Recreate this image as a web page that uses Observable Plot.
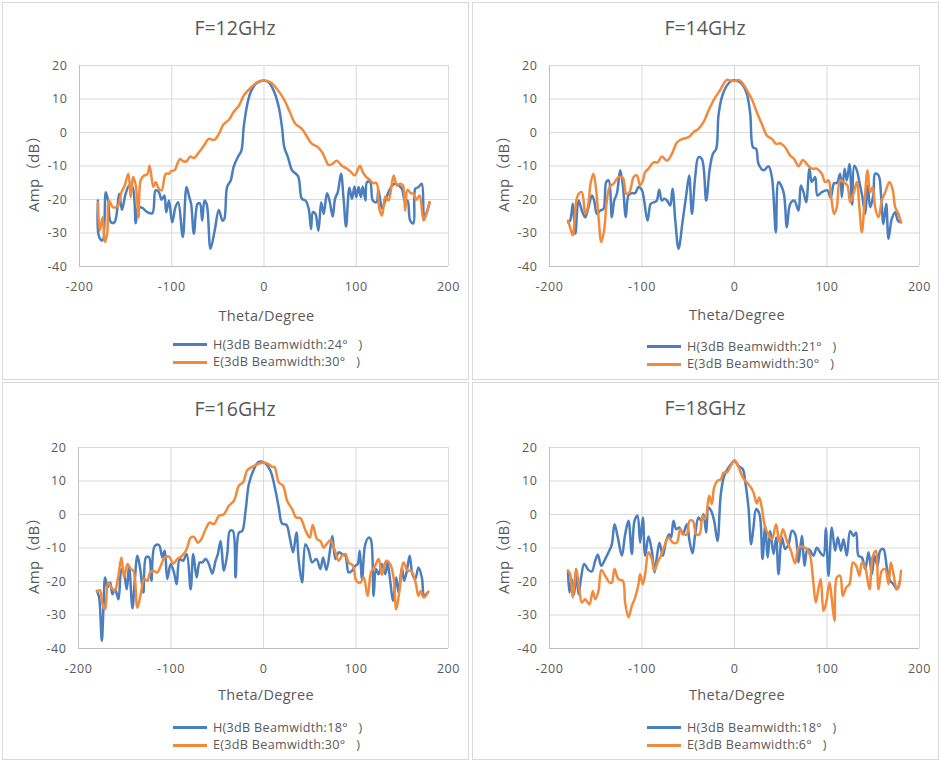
<!DOCTYPE html>
<html>
<head>
<meta charset="utf-8">
<script src="https://cdn.jsdelivr.net/npm/d3@7"></script>
<script src="https://cdn.jsdelivr.net/npm/@observablehq/plot@0.6"></script>
<style>
  html, body { margin: 0; padding: 0; background: #fff; }
  #root { position: relative; width: 940px; height: 761px; overflow: hidden; font-family: "Open Sans", "Noto Sans CJK SC", sans-serif; color: #595959; }
  .frame { position: absolute; border: 1px solid #d9d9d9; box-sizing: border-box; }
  .svgwrap { position: absolute; }
  .title { position: absolute; font-size: 19.5px; line-height: 22px; transform: translate(-50%, -50%); white-space: nowrap; }
  .xlab { position: absolute; font-size: 14.5px; line-height: 16px; letter-spacing: 0.3px; transform: translate(-50%, -50%); white-space: nowrap; }
  .ylab { position: absolute; font-size: 15px; line-height: 16px; letter-spacing: 0.4px; transform: translate(-50%, -50%) rotate(-90deg); white-space: nowrap; }
  .leg { position: absolute; font-size: 12.6px; line-height: 14px; letter-spacing: 0.3px; white-space: pre; }
  .leg .row { position: absolute; left: 0; height: 14px; display: flex; align-items: center; transform: translateY(-50%); }
  .leg .sw { width: 34px; height: 3px; margin-right: 6px; }
  .leg .tx { display: block; height: 14px; line-height: 14px; }
</style>
</head>
<body>
<div id="root"></div>
<script>
// ---------- data ----------
const xTicks = [-200, -100, 0, 100, 200];
const yTicks = [-40, -30, -20, -10, 0, 10, 20];
const titles = ["F=12GHz", "F=14GHz", "F=16GHz", "F=18GHz"];
const hLabels = ["H(3dB Beamwidth:24°   )", "H(3dB Beamwidth:21°   )", "H(3dB Beamwidth:18°   )", "H(3dB Beamwidth:18°   )"];
const eLabels = ["E(3dB Beamwidth:30°   )", "E(3dB Beamwidth:30°   )", "E(3dB Beamwidth:30°   )", "E(3dB Beamwidth:6°   )"];
const xTitle = "Theta/Degree";
const yTitle = "Amp（dB）";

const h12 = [[-180,-20.3],[-178.7,-31.2],[-175,-32.2],[-171.5,-17.8],[-169,-20.3],[-166,-26.8],[-162,-26.8],[-157,-18.3],[-154,-23.1],[-150,-18.3],[-146,-15.8],[-142.5,-16.3],[-139,-27.1],[-136.5,-22.3],[-132,-22.5],[-126.5,-23.8],[-121,-24.1],[-117.5,-17.3],[-114,-17.8],[-111,-20.1],[-108,-18.8],[-106,-23.8],[-103,-20.3],[-99.5,-26.8],[-96,-22.3],[-93,-20.8],[-88,-31.2],[-84,-16.3],[-81,-19.3],[-79,-21.3],[-76,-30.2],[-72,-21.3],[-69.5,-21.1],[-67,-26.3],[-64.5,-20.3],[-62,-21.5],[-58,-34.7],[-53.5,-29.3],[-49,-23.1],[-45,-26.3],[-43,-25.8],[-40,-16.3],[-36,-14.3],[-33,-10.3],[-28.5,-7.4],[-24.5,-5.4],[-22,1.6],[-18,8.6],[-14.5,12],[-9,14.5],[-4,15.3],[0,15.5],[5,15],[10.5,12.5],[16,7.6],[19.5,1.6],[22,-4.4],[26,-7.4],[30.5,-11.3],[37,-13.1],[41,-19.8],[45,-20.3],[48.5,-22.8],[51,-28.8],[53,-23.8],[55.7,-24.3],[59,-29.3],[62,-20.8],[64.7,-24.3],[68.3,-18.1],[71,-20.3],[74.5,-25.1],[77,-19.8],[80,-17.8],[83.5,-12.3],[86.4,-20.3],[89,-28.1],[92.5,-16.5],[95.4,-19.8],[98,-16.1],[100,-19.3],[102.6,-16.3],[105,-19.3],[107,-16.1],[110,-20.3],[111.6,-14.8],[115,-14.8],[118,-20.3],[122,-20.8],[124,-17.1],[128,-22.8],[131.5,-20.3],[135,-17.8],[139,-15.8],[142,-15.3],[146,-15.8],[149.5,-16.8],[153,-20.8],[155.6,-20.3],[158.5,-26.3],[162,-27.1],[164,-16.8],[167.5,-16.3],[171,-15.3],[173.7,-25.3],[176.5,-23.8],[179.5,-20.8]];
const e12 = [[-180,-20.8],[-178,-29.3],[-175,-25.3],[-172.5,-32.7],[-170,-30.2],[-168,-20.3],[-164,-22.3],[-160.7,-22.3],[-158,-21.8],[-154.5,-17.8],[-151,-15.8],[-147,-12.3],[-144.5,-19.3],[-142,-13.3],[-139,-15.8],[-136,-25.3],[-133.7,-14.3],[-130,-12.8],[-126.5,-12.5],[-124,-9.9],[-120,-16.3],[-117.5,-14.8],[-114,-16.8],[-111,-17.3],[-106.5,-12.3],[-103,-12.3],[-100.5,-11.5],[-97,-11.3],[-94,-9.4],[-91,-7.9],[-87.5,-8.6],[-84,-8.6],[-80,-7.2],[-76,-7.6],[-70.5,-5.9],[-65,-3.9],[-60,-1.9],[-54,-2.2],[-49,-0.5],[-44,2.4],[-38,3.8],[-33,6.1],[-27,8.1],[-22,11],[-14.5,13.3],[-7.4,15],[0,15.5],[7,15],[14,13],[21.5,10],[28,6.1],[34,2.6],[41,1.1],[47,-1.4],[52,-3.4],[57.5,-4.2],[63,-5.9],[66.5,-7.9],[70,-9.7],[74,-9.4],[79,-8.4],[84.6,-10],[90,-10.8],[94.3,-11.8],[98.3,-12.8],[104,-9.9],[107,-11.8],[111,-13.3],[114.5,-14.1],[118,-15.1],[122,-15.1],[125,-22.8],[128,-24.8],[131.5,-19.1],[135,-20.3],[137.6,-17.1],[140.6,-12.8],[144,-15.8],[147.7,-15.3],[150.6,-15.8],[153,-23.3],[155.6,-17.1],[159,-18.1],[162,-18.3],[165,-20.1],[168.6,-18.8],[173,-26.3],[176,-24.3],[179.5,-20.8]];

const h14 = [[-180,-26.8],[-177.7,-26.3],[-174.8,-21.3],[-172,-30.2],[-168.6,-20.3],[-165,-23.3],[-161.4,-25.3],[-157.8,-22.3],[-154.2,-18.8],[-151.7,-20.3],[-148.8,-24.3],[-145,-23.3],[-141.6,-22.8],[-138.7,-14.8],[-136,-14.3],[-132.6,-25.3],[-130,-20.3],[-127.2,-18.3],[-123.6,-11.3],[-120.7,-15.8],[-117.5,-25.3],[-114.6,-18.8],[-111,-18.1],[-107.4,-18.1],[-103.8,-16.3],[-100,-17.3],[-97.7,-20.3],[-94,-26.3],[-90.5,-21.3],[-86.8,-20.8],[-84,-20.3],[-81.4,-17.1],[-78.6,-20.3],[-76,-19.8],[-73,-20.3],[-69.5,-21.8],[-67,-16.8],[-64,-26.3],[-60.5,-34.7],[-56,-26.3],[-52,-18.3],[-49,-12.8],[-46,-24.3],[-42.5,-13.3],[-39,-7.4],[-35.3,-7.9],[-30.6,-20.3],[-27,-11.3],[-23.4,-6.4],[-19.8,-4.9],[-17.3,5.1],[-13.7,10.5],[-8.3,14],[-2.9,15.5],[2.5,15.5],[8,14.5],[13.3,11.5],[17,5.6],[20,-4.4],[23.4,-4.9],[26,-9.4],[31.4,-11.3],[36.8,-10.1],[40.4,-13.3],[44.7,-29.8],[47.6,-14.8],[53,-17.8],[56.6,-28.3],[60.2,-21.3],[64.5,-20.3],[69.2,-23.3],[71.7,-15.8],[74.6,-17.8],[77.5,-20.8],[81,-10.8],[83.6,-14.8],[87.2,-13.3],[89.7,-18.8],[94.4,-17.8],[100.5,-17.3],[104,-19.5],[107.7,-15.1],[110.6,-15.1],[114.2,-12.3],[116,-19.3],[119,-10.8],[121.4,-14.3],[124.3,-9.4],[127.2,-21.5],[129.4,-9.9],[132.3,-11.3],[135,-14.8],[138,-18.8],[141.3,-24.3],[144,-15.8],[146.7,-22.3],[150.3,-18.3],[152,-12.3],[155.7,-12.8],[158.6,-19.3],[161,-27.3],[164,-21.3],[166.5,-31.7],[170,-25.8],[173.7,-23.8],[176.6,-26.3],[180,-26.8]];
const e14 = [[-180,-26.3],[-177.7,-28.3],[-174.8,-30.7],[-171,-20.3],[-168.3,-18.3],[-165,-17.8],[-161.4,-24.3],[-158.6,-22.3],[-155.3,-14.8],[-152.4,-12.3],[-149.5,-17.3],[-147,-25.3],[-144,-32.7],[-141,-29.3],[-138,-20.3],[-135,-16.3],[-130.8,-15.3],[-125.4,-13.3],[-120.7,-13.5],[-117,-18.3],[-113.5,-17.8],[-109,-13.3],[-105.6,-12.8],[-102,-15.8],[-99,-14.3],[-96.6,-11.8],[-93,-10.8],[-87.6,-8.9],[-83.2,-8.9],[-78.6,-7.2],[-73,-8.4],[-67.7,-6.4],[-62,-2.9],[-56,-1.9],[-49.7,-1.4],[-44.3,0.1],[-39,1.1],[-33.5,3.1],[-28,6.6],[-22.7,9.6],[-15.5,12.7],[-8.3,15.7],[-4.7,15.5],[0,15.4],[4.3,15.7],[8,15],[13.3,12.7],[18.7,10],[24,6.1],[29.5,2.6],[35,-0.9],[40.4,-1.9],[45,-3.4],[49.4,-3.2],[54.8,-4.4],[60.2,-6.9],[64.5,-7.9],[69.2,-10.1],[73.9,-8.2],[78.2,-9.4],[83.6,-10.8],[89,-10.8],[94.4,-12.3],[98,-14.8],[101.6,-14.3],[104.5,-19.3],[107.7,-24.3],[110.6,-22.3],[114.2,-14.3],[117.8,-14.8],[122,-15.8],[125,-20.8],[128.6,-18.3],[132.3,-14.8],[135,-22.3],[137.7,-29.8],[140.5,-21.3],[143.8,-11.3],[146.7,-17.8],[149.5,-16.3],[152,-22.3],[155.7,-25.3],[159.3,-20.3],[163,-17.8],[167.6,-14.8],[171.2,-17.3],[173.7,-22.3],[177.3,-24.3],[180,-26.8]];

const h16 = [[-180,-22.8],[-177.7,-24.8],[-174.8,-37.7],[-173,-27.8],[-171.2,-18.8],[-168.7,-21.8],[-165.8,-20.3],[-163.3,-23.8],[-160.4,-22.3],[-156.8,-25.3],[-153.6,-16.3],[-150.7,-17.8],[-147.8,-22.3],[-145.3,-15.3],[-141.7,-28],[-139.2,-19.8],[-136.3,-12.3],[-133.5,-15.8],[-129.9,-23.3],[-127,-12.8],[-123.7,-12.8],[-121.2,-19.8],[-117.6,-9.4],[-113,-9.1],[-109.4,-12.8],[-106.8,-10.8],[-104,-19.3],[-100.4,-14.8],[-96.8,-17.3],[-93.9,-20.8],[-90.6,-13.3],[-87,-13.8],[-83,-11.8],[-78.8,-22.3],[-75.9,-11.8],[-72.3,-18.8],[-69,-14.3],[-66.2,-14.3],[-62.6,-13.3],[-59,-14.8],[-55.4,-17.6],[-51.8,-13.8],[-49.3,-11.8],[-46.4,-7.9],[-42.8,-16.8],[-39.2,-11.8],[-36.3,-4.9],[-33.1,-4.9],[-30.2,-18.8],[-26.6,-5.4],[-23,-4.9],[-19.4,1.1],[-15.8,9.1],[-10.4,13.5],[-6.1,15.5],[-2.5,15.8],[2.2,15.2],[7.6,13],[13,7.1],[16.5,2.1],[20.1,-2.7],[24.8,-3.1],[28.4,-6.9],[32,-11.3],[35.6,-5.4],[38.1,-13.8],[41.7,-20.3],[45.3,-8.9],[48.9,-10.8],[52.5,-14.3],[57.2,-13.3],[61.5,-16.3],[64.4,-12.8],[68,-16.6],[72.3,-9.9],[74.5,-6.4],[77.7,-13.3],[81.3,-11.3],[84.9,-11.8],[88.5,-12.3],[92,-17.3],[95.7,-16.8],[99.3,-15.3],[101.8,-14.8],[104,-10.8],[106.5,-19.3],[110,-8.9],[113.7,-6.9],[116,-7.4],[119,-24.3],[121.6,-16.3],[124.5,-17.8],[128,-14.8],[131.7,-17.8],[134,-14.3],[137,-19.8],[140,-25.8],[143.5,-18.8],[146,-23.3],[149.6,-15.8],[152,-19.8],[155,-16.8],[158,-12.3],[161,-17.8],[164,-19.3],[167.6,-15.8],[171.2,-18.8],[173.7,-24.3],[177.3,-23.3]];
const e16 = [[-180,-23],[-176.9,-22.6],[-174,-26.8],[-171.2,-28.3],[-168,-20.3],[-164.4,-21.8],[-160.8,-22.8],[-157.2,-18.8],[-153.6,-12.8],[-150.7,-18.8],[-147,-14.8],[-143.5,-16.3],[-140.6,-16.8],[-136.3,-27.8],[-132.7,-23.8],[-129.1,-19.3],[-125.5,-19.8],[-122.7,-17.3],[-119,-16.8],[-114.7,-17.3],[-111.1,-15.3],[-106.8,-12.8],[-102.2,-12.6],[-97.5,-14.6],[-93.2,-13.3],[-87.8,-12.3],[-83,-10.3],[-78.8,-6.9],[-75.2,-6.7],[-70.9,-8.4],[-67.3,-7.4],[-62.6,-4.4],[-58,-2.4],[-53.6,-2.9],[-48.2,-0.4],[-42.8,0.1],[-37.4,2.6],[-32,4.1],[-26.6,8.6],[-22,9.6],[-17.6,13.2],[-12.2,14.2],[-6.8,15],[0,15.5],[5.8,15],[9.4,14.2],[11.9,14.2],[16.5,9.6],[21.2,8.6],[25.5,4.1],[31,1.6],[35.3,-0.9],[40,-1.1],[45.3,-4.7],[50,-6.9],[53.2,-3.1],[57.9,-7.4],[61.5,-7.9],[65.1,-9.9],[68,-8.9],[72.3,-7.7],[76.6,-10.3],[81.3,-13.8],[84.9,-12.3],[88.5,-11.8],[92,-14.3],[96.8,-15.3],[100.4,-19.8],[104.7,-20.3],[108.3,-18.8],[112.6,-24.3],[116.2,-17.3],[119.8,-15.8],[124.5,-13.3],[128,-18],[132.7,-13.8],[137,-14.8],[140.6,-18.8],[143.5,-28.3],[147,-22.8],[151.4,-14.3],[155.8,-16.8],[159.4,-16.8],[164,-19.8],[167.6,-24.3],[170.1,-22.8],[173,-24.8],[178.4,-23]];

const h18 = [[-180,-16.8],[-178.4,-23.3],[-175.9,-19.3],[-173.3,-23.8],[-171.2,-16.3],[-168.6,-23.8],[-165.8,-18.8],[-162.5,-14.8],[-157.8,-16.6],[-154.2,-17],[-150.6,-13.8],[-147.7,-12],[-144.1,-15.3],[-139.8,-13.3],[-136.2,-11.3],[-132.6,-8.9],[-129.7,-2.9],[-126.1,-6.9],[-121.8,-12.3],[-118.2,-5.9],[-114.6,-1.9],[-111,-11.8],[-108.1,-1.9],[-104.9,-0.4],[-102,-8.4],[-99.1,-0.9],[-96.6,-12.3],[-93,-6.6],[-89.4,-10.8],[-86.5,-17.3],[-84,-12.8],[-81.1,-8.4],[-77.5,-12.3],[-73.9,-7.9],[-70.6,-5.9],[-68.5,-6.9],[-66,-1.9],[-63,-4.4],[-59.5,-3.9],[-55.9,-5.9],[-51.5,-2.9],[-48.6,-7.9],[-45.4,-11.6],[-42.5,-5.9],[-38.9,-0.9],[-36,-1.9],[-33.5,0.1],[-30.6,-5.4],[-28.1,2.1],[-25.2,1.1],[-22,-1.9],[-18.4,-7.9],[-14.8,6.1],[-11.2,11.5],[-6.5,14],[0,16],[4.3,14.5],[9,13.5],[11.5,10],[15.1,2.1],[18,-8.9],[20.5,-3.9],[23.4,1.6],[27,0.1],[30.3,-13.3],[33.2,-3.4],[36,-12.8],[38.6,-4.9],[42.2,-11.8],[45,-6.9],[47.6,-17.8],[51.2,-6.9],[54.8,-10.3],[58.4,-8.9],[62,-4.9],[65.6,-5.9],[69.2,-14.3],[72.8,-6.4],[75.7,-15.3],[78.9,-10.3],[81.8,-10.8],[85.4,-12.3],[89,-9.9],[92.6,-11.3],[96.2,-12.3],[98.7,-4.1],[101.6,-18.3],[105.2,-3.9],[108.8,-10.8],[111.7,-6.9],[115,-10.8],[117.8,-7.4],[121.4,-12.3],[125,-4.9],[128.6,-6.4],[131.5,-5.4],[134,-12.3],[137.7,-12.8],[141.3,-16.3],[144.9,-11.3],[148.5,-17.8],[151.4,-12.3],[154.6,-15.3],[157.5,-10.8],[161,-10.3],[164.7,-15.8],[168.3,-19.8],[171.9,-20.8],[175.5,-22.3],[179,-19.8]];
const e18 = [[-180,-16.8],[-177.7,-17.8],[-174.8,-24.8],[-171.2,-16.3],[-168,-21.8],[-165,-26.3],[-161.4,-25.3],[-156.8,-26.8],[-153.2,-22.8],[-150.6,-25.3],[-147,-22.8],[-144.1,-16.6],[-139.8,-18.3],[-135.1,-20.3],[-132.6,-20.3],[-129.7,-16.3],[-125.4,-19.3],[-120.7,-19.8],[-118.2,-26.3],[-114.6,-30.7],[-111,-27.3],[-107.4,-24.8],[-103.8,-20.8],[-102,-17.8],[-99.1,-20.8],[-96.6,-17.8],[-93,-11.3],[-89.4,-13.3],[-86.8,-16.8],[-83.2,-14.3],[-79.6,-12.3],[-75.7,-9.4],[-71.4,-6.9],[-66.7,-8.4],[-62.3,-8.4],[-58.7,-4.4],[-55.1,-5.9],[-51.5,-5.9],[-48.6,-1.9],[-45,-1.9],[-41.4,-5.9],[-37.8,-5.9],[-34.6,-0.4],[-31.7,-1.4],[-27.4,5.6],[-24.5,3.1],[-22,8.1],[-18.4,10.1],[-14.8,10.5],[-11.9,12.5],[-8.3,12.5],[-4,14.5],[0,16.2],[4.3,14.2],[9,11],[13.3,9.6],[17.7,8.1],[20.5,6.6],[24.1,3.3],[26.7,5.1],[29.5,2.1],[33.2,-3.9],[36.8,-5.9],[40.4,-7.4],[45,-2.9],[48.6,-8.4],[52.3,-4.4],[56.6,-7.9],[61,-10.8],[65.6,-14.6],[69.2,-9.9],[73.9,-9.6],[78.2,-10.3],[81.8,-12.3],[85.4,-20.8],[87.9,-26.3],[90.8,-22.1],[93.3,-19.3],[96.2,-28.8],[99.1,-26.3],[102.7,-20.3],[105.2,-25.3],[108.1,-31.7],[110.6,-18.8],[114.2,-18.3],[117.1,-24.3],[120.7,-21.8],[124.3,-20.8],[128,-14.3],[131.5,-15.3],[135.1,-18.3],[137.7,-14.3],[141.3,-15.8],[146,-22.3],[149.2,-12.8],[152.8,-10.8],[155.7,-22.3],[159.3,-16.8],[162.9,-16.3],[166.5,-20.8],[169,-14.3],[171.9,-17.8],[175.5,-22.3],[177.3,-21.8],[180,-16.8]];

const hSeries = [h12, h14, h16, h18];
const eSeries = [e12, e14, e16, e18];

// ---------- layout ----------
const BLUE = "#4a7ebf";
const ORANGE = "#f28a3c";
const root = document.getElementById("root");

const panels = [
  {left: 0,   top: 0,   w: 470, h: 380, frame: [1.5, 1.5, 467, 378], ml: 79, mr: 22, mt: 65, mb: 114, titleY: 28,  legX: 173, legY: 344.5, xlabY: 316, ylabX: 33, ylabY: 170},
  {left: 470, top: 0,   w: 470, h: 380, frame: [472, 1.5, 467, 378], ml: 79, mr: 21, mt: 65, mb: 114, titleY: 28,  legX: 177, legY: 346.5, xlabY: 315, ylabX: 33, ylabY: 170},
  {left: 0,   top: 380, w: 470, h: 381, frame: [1.5, 382, 467, 378], ml: 78, mr: 22, mt: 67, mb: 113, titleY: 29,  legX: 173, legY: 347.5, xlabY: 315, ylabX: 33, ylabY: 172},
  {left: 470, top: 380, w: 470, h: 381, frame: [472, 382, 467, 378], ml: 79, mr: 21, mt: 67, mb: 113, titleY: 28,  legX: 177, legY: 347.5, xlabY: 315, ylabX: 33, ylabY: 172}
];

panels.forEach((p, i) => {
  const fr = document.createElement("div");
  fr.className = "frame";
  Object.assign(fr.style, {left: p.frame[0] + "px", top: p.frame[1] + "px", width: p.frame[2] + "px", height: p.frame[3] + "px"});
  root.appendChild(fr);

  const chart = Plot.plot({
    width: p.w, height: p.h,
    marginLeft: p.ml, marginRight: p.mr, marginTop: p.mt, marginBottom: p.mb,
    style: {fontFamily: '"Open Sans", "Noto Sans CJK SC", sans-serif', fontSize: "12.5px", letterSpacing: "0.6px", color: "#595959", background: "transparent", overflow: "visible"},
    x: {domain: [-200, 200]},
    y: {domain: [-40, 20]},
    marks: [
      Plot.gridX(xTicks.slice(1), {stroke: "#d9d9d9", strokeOpacity: 1}),
      Plot.gridY(yTicks.slice(1), {stroke: "#d9d9d9", strokeOpacity: 1}),
      Plot.ruleX([-200], {stroke: "#bfbfbf"}),
      Plot.ruleY([-40], {stroke: "#bfbfbf"}),
      Plot.line(hSeries[i], {x: d => d[0], y: d => d[1], stroke: BLUE, strokeWidth: 2.5, curve: "catmull-rom"}),
      Plot.line(eSeries[i], {x: d => d[0], y: d => d[1], stroke: ORANGE, strokeWidth: 2.5, curve: "catmull-rom"}),
      Plot.axisX(xTicks, {tickSize: 0, tickPadding: 16, label: null, tickFormat: d => String(d)}),
      Plot.axisY(yTicks, {tickSize: 0, tickPadding: 12, label: null, tickFormat: d => String(d)})
    ]
  });
  const wrap = document.createElement("div");
  wrap.className = "svgwrap";
  Object.assign(wrap.style, {left: p.left + "px", top: p.top + "px"});
  wrap.appendChild(chart);
  root.appendChild(wrap);

  const addText = (cls, txt, x, y) => {
    const d = document.createElement("div");
    d.className = cls;
    d.textContent = txt;
    d.style.left = (p.left + x) + "px";
    d.style.top = (p.top + y) + "px";
    root.appendChild(d);
    return d;
  };
  addText("title", titles[i], 235, p.titleY);
  addText("xlab", xTitle, (p.ml + (p.w - p.mr)) / 2 + 3, p.xlabY);
  addText("ylab", yTitle, p.ylabX, p.ylabY);

  const leg = document.createElement("div");
  leg.className = "leg";
  leg.style.left = (p.left + p.legX) + "px";
  leg.style.top = (p.top + p.legY) + "px";
  [[BLUE, hLabels[i], 0], [ORANGE, eLabels[i], 17.5]].forEach(([c, t, dy]) => {
    const r = document.createElement("div");
    r.className = "row";
    r.style.top = dy + "px";
    const sw = document.createElement("span");
    sw.className = "sw";
    sw.style.background = c;
    const tx = document.createElement("span");
    tx.className = "tx";
    tx.textContent = t;
    r.appendChild(sw); r.appendChild(tx);
    leg.appendChild(r);
  });
  root.appendChild(leg);
});
</script>
</body>
</html>
